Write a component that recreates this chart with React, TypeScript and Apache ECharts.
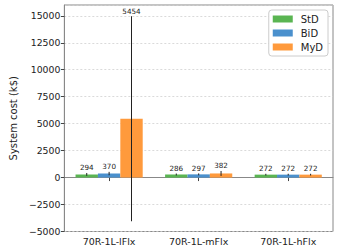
import React, { useEffect, useRef } from "react";
import * as echarts from "echarts";

const categories = ["70R-1L-lFlx", "70R-1L-mFlx", "70R-1L-hFlx"];
const seriesNames = ["StD", "BiD", "MyD"];
const seriesColors = ["#5ab552", "#4a90cd", "#ff9a3c"];
const stdValues = [294, 286, 272];
const bidValues = [370, 297, 272];
const mydValues = [5454, 382, 272];
const stdErrors = [130, 90, 80];
const bidErrors = [160, 90, 80];
const mydErrors = [9505, 230, 80];
const yTicks = { min: -5000, max: 16000, interval: 2500 };

const FONT = "DejaVu Sans";

export default function App() {
  const ref = useRef<HTMLDivElement>(null);
  useEffect(() => {
    if (!ref.current) return;
    const chart = echarts.init(ref.current, undefined, { renderer: "svg" });
    const values = [stdValues, bidValues, mydValues];
    const errors = [stdErrors, bidErrors, mydErrors];
    const barSeries = seriesNames.map((name, i) => ({
      name,
      type: "bar",
      data: values[i],
      barWidth: "25%",
      barGap: "0%",
      itemStyle: { color: seriesColors[i] },
      z: 2,
    }));
    const errSeries = seriesNames.map((name, i) => ({
      name: name + "-err",
      type: "custom",
      data: values[i].map((v, j) => [j, v, errors[i][j]]),
      encode: { x: 0, y: 1 },
      z: 5,
      silent: true,
      renderItem: (params: any, api: any) => {
        const c = api.value(0);
        const v = api.value(1);
        const e = api.value(2);
        const band = api.size([1, 0])[0];
        const off = (i - 1) * band * 0.25;
        const top = api.coord([c, v + e]);
        const bot = api.coord([c, v - e]);
        const x = top[0] + off;
        return {
          type: "group",
          children: [
            {
              type: "line",
              shape: { x1: x, y1: top[1], x2: x, y2: bot[1] },
              style: { stroke: "#222", lineWidth: 1 },
            },
            {
              type: "text",
              x,
              y: top[1] - 1.5,
              style: {
                text: String(v),
                fontSize: 7.2,
                fontFamily: FONT,
                fill: "#222",
                align: "center",
                verticalAlign: "bottom",
              },
            },
          ],
        };
      },
    }));
    chart.setOption({
      animation: false,
      grid: {
        left: 56,
        right: 6,
        top: 5,
        bottom: 20.5,
        show: true,
        borderColor: "#888",
        borderWidth: 1,
        containLabel: false,
      },
      legend: {
        data: seriesNames,
        orient: "vertical",
        right: 11,
        top: 10,
        itemWidth: 20,
        itemHeight: 7,
        itemGap: 4,
        icon: "rect",
        padding: [4, 5, 4, 4],
        borderColor: "#ccc",
        borderWidth: 1,
        borderRadius: 3,
        backgroundColor: "#fff",
        textStyle: {
          fontFamily: FONT,
          fontSize: 10,
          lineHeight: 10,
          color: "#222",
          padding: [0, 0, 0, 3],
        },
      },
      xAxis: {
        type: "category",
        data: categories,
        axisLine: { show: true, lineStyle: { color: "#888" } },
        axisTick: { show: true, alignWithLabel: true, length: 3.5, lineStyle: { color: "#444" } },
        axisLabel: { fontFamily: FONT, fontSize: 9.5, color: "#222", margin: 5 },
        splitLine: { show: false },
      },
      yAxis: {
        type: "value",
        min: yTicks.min,
        max: yTicks.max,
        interval: yTicks.interval,
        name: "System cost (k$)",
        nameLocation: "middle",
        nameGap: 38,
        nameTextStyle: { fontFamily: FONT, fontSize: 10, color: "#222" },
        axisLine: { show: true, lineStyle: { color: "#888" } },
        axisTick: { show: true, length: 3.5, lineStyle: { color: "#444" } },
        axisLabel: {
          fontFamily: FONT,
          fontSize: 9.3,
          color: "#222",
          margin: 4,
          showMaxLabel: false,
          formatter: (v: number) => (v < 0 ? "\u2212" + Math.abs(v) : String(v)),
        },
        splitLine: { show: true, lineStyle: { color: "#d0d0d0", type: [2, 2], width: 0.8 } },
      },
      series: [...barSeries, ...errSeries],
    });
    return () => chart.dispose();
  }, []);
  return (
    <div
      ref={ref}
      style={{ position: "fixed", left: 0, top: 0, width: 339, height: 252, background: "#fff" }}
    />
  );
}
